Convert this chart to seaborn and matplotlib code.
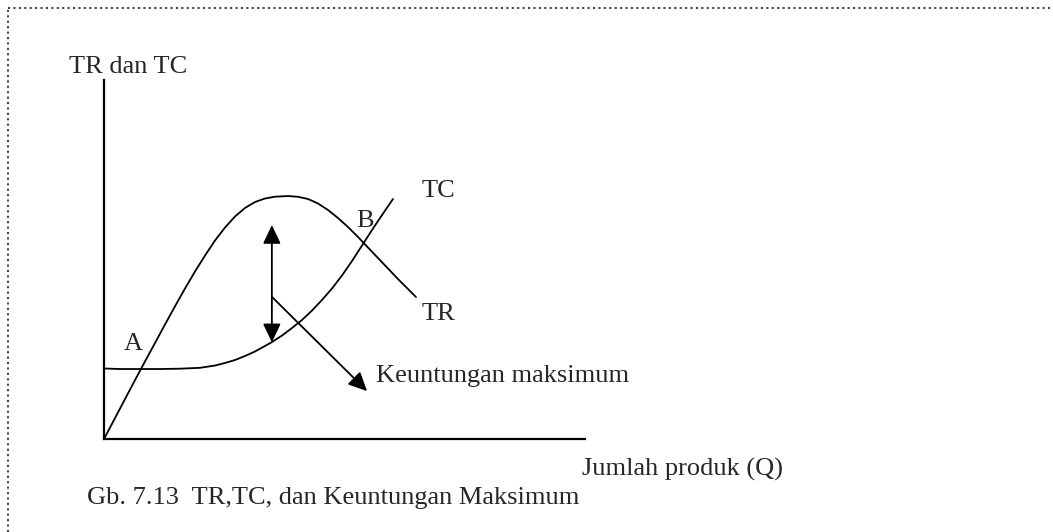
import matplotlib
matplotlib.use("Agg")
import matplotlib.pyplot as plt  # plotting
from matplotlib.lines import Line2D  # for the dotted frame
import seaborn as sns  # lineplot for the curves
import pandas as pd  # data frames for seaborn

"""TR, TC and maximum profit diagram (Gb. 7.13)."""

# Total revenue curve (Q, TR)
tr_q = [0.000, 0.229, 0.437, 0.644, 0.852, 1.060, 1.268, 1.476, 1.684, 1.892,
        2.100, 2.308, 2.516, 2.723, 2.931, 3.139, 3.347, 3.555, 3.825, 4.033,
        4.241, 4.449, 4.657, 4.865, 5.073, 5.281, 5.489, 5.696, 5.904, 6.112,
        6.320, 6.486]
tr_v = [0.000, 0.437, 0.834, 1.230, 1.619, 2.005, 2.392, 2.772, 3.144, 3.499,
        3.833, 4.147, 4.418, 4.648, 4.826, 4.951, 5.024, 5.062, 5.076, 5.060,
        5.014, 4.920, 4.784, 4.617, 4.429, 4.220, 4.000, 3.781, 3.562, 3.342,
        3.134, 2.966]

# Total cost curve (Q, TC)
tc_q = [0.000, 0.333, 0.748, 1.164, 1.580, 1.996, 2.308, 2.516, 2.723, 2.931,
        3.139, 3.347, 3.493, 3.701, 3.909, 4.116, 4.324, 4.532, 4.740, 4.948,
        5.156, 5.364, 5.572, 5.780, 6.008]
tc_v = [1.473, 1.462, 1.462, 1.462, 1.469, 1.487, 1.535, 1.588, 1.650, 1.734,
        1.828, 1.943, 2.026, 2.162, 2.319, 2.486, 2.684, 2.904, 3.144, 3.416,
        3.718, 4.042, 4.366, 4.679, 5.014]

# profit arrow (vertical) and pointer arrow to the label
profit_q = 3.49
profit_low, profit_high = 2.02, 4.47
pointer_start = (3.49, 2.97)
pointer_end = (5.47, 1.00)

# curve / point labels: (text, q, value)
labels = [("TC", 6.61, 5.06), ("B", 5.24, 4.43), ("TR", 6.61, 2.49),
          ("A", 0.40, 1.86), ("Keuntungan maksimum", 5.65, 1.19)]

y_title = "TR dan TC"
x_title = "Jumlah produk (Q)"
caption = "Gb. 7.13  TR,TC, dan Keuntungan Maksimum"

sns.set_style("white")
plt.rcParams['font.family'] = ['Liberation Serif', 'DejaVu Serif']
FS = 19

fig = plt.figure(figsize=(10.53, 5.32), dpi=100)
W, H = 1053, 532
ax = fig.add_axes([104 / W, 1 - 439 / H, 481 / W, 359 / H])

df_tr = pd.DataFrame({"Q": tr_q, "v": tr_v})
df_tc = pd.DataFrame({"Q": tc_q, "v": tc_v})
sns.lineplot(data=df_tr, x="Q", y="v", sort=False, estimator=None, color="black", lw=1.3, ax=ax)
sns.lineplot(data=df_tc, x="Q", y="v", sort=False, estimator=None, color="black", lw=1.3, ax=ax)

ax.set_xlim(0, 10)
ax.set_ylim(0, 7.5)
ax.set_xticks([])
ax.set_yticks([])
ax.set_xlabel("")
ax.set_ylabel("")
for s in ["top", "right"]:
    ax.spines[s].set_visible(False)
for s in ["left", "bottom"]:
    ax.spines[s].set_linewidth(1.6)
    ax.spines[s].set_color("black")

# arrows
ax.annotate("", xy=(profit_q, profit_high), xytext=(profit_q, profit_low),
            arrowprops=dict(arrowstyle="<|-|>,head_length=0.42,head_width=0.2", mutation_scale=27,
                            color="black", lw=1.3, shrinkA=0, shrinkB=0))
ax.annotate("", xy=pointer_end, xytext=pointer_start,
            arrowprops=dict(arrowstyle="-|>,head_length=0.42,head_width=0.2", mutation_scale=27,
                            color="black", lw=1.3, shrinkA=0, shrinkB=0))

for txt, q, v in labels:
    ax.text(q, v, txt, fontsize=FS, ha="left", va="baseline", clip_on=False)

fig.text(69 / W, 1 - 73 / H, y_title, fontsize=FS, ha="left", va="baseline")
fig.text(582 / W, 1 - 476 / H, x_title, fontsize=FS, ha="left", va="baseline")
fig.text(87 / W, 1 - 504 / H, caption, fontsize=FS, ha="left", va="baseline")

# dotted frame (top and left only visible)
fig.add_artist(Line2D([8 / W, 1], [1 - 8 / H, 1 - 8 / H], transform=fig.transFigure,
                      color="#444444", lw=1.5, linestyle=(0, (1, 1.6))))
fig.add_artist(Line2D([8 / W, 8 / W], [0, 1 - 8 / H], transform=fig.transFigure,
                      color="#444444", lw=1.5, linestyle=(0, (1, 1.6))))

fig.savefig("out.png", dpi=100)
